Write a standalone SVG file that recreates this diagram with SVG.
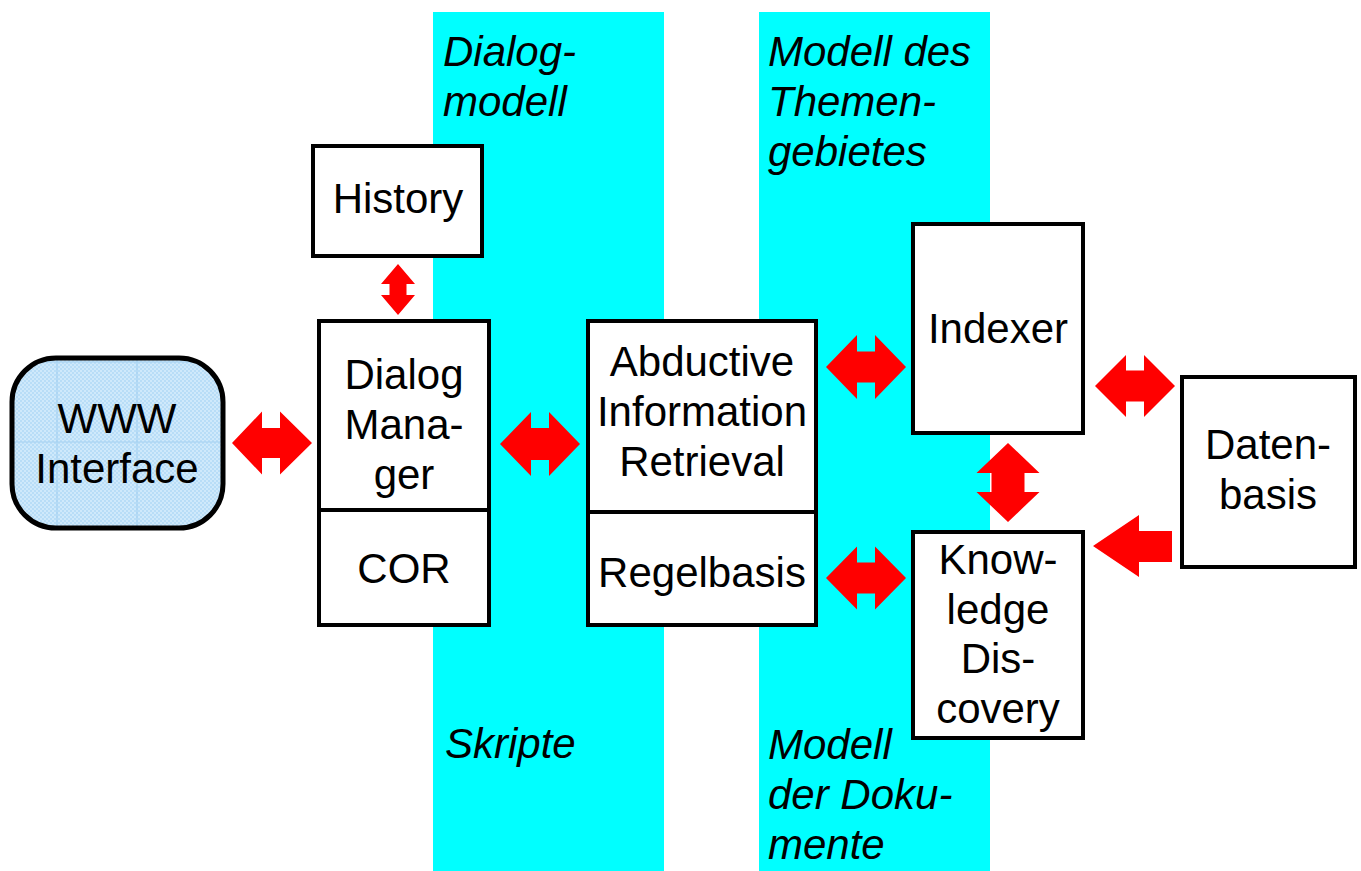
<svg xmlns="http://www.w3.org/2000/svg" width="1361" height="871" viewBox="0 0 1361 871">
<defs>
<style>
.band{fill:#00ffff}
.box{fill:#ffffff;stroke:#000;stroke-width:4}
.arr{fill:#ff0000}
.t{font-family:"Liberation Sans",Arial,sans-serif;font-size:42px;fill:#000;text-anchor:middle}
.i{font-family:"Liberation Sans",Arial,sans-serif;font-size:42px;font-style:italic;fill:#000}
</style>
<pattern id="dots" width="4" height="4" patternUnits="userSpaceOnUse">
<rect width="4" height="4" fill="#cfe9fb"/>
<rect width="2" height="2" fill="#b8ddf7"/>
<rect x="2" y="2" width="2" height="2" fill="#b8ddf7"/>
</pattern>
<clipPath id="wclip"><rect x="12" y="358" width="211" height="170" rx="44"/></clipPath>
</defs>
<rect width="1361" height="871" fill="#ffffff"/>
<g id="bands">
<rect class="band" x="433" y="12" width="231" height="859"/>
<rect class="band" x="759" y="12" width="231" height="859"/>
<text class="i" x="443" y="66">Dialog-</text>
<text class="i" x="443" y="116">modell</text>
<text class="i" x="768" y="66">Modell des</text>
<text class="i" x="768" y="116">Themen-</text>
<text class="i" x="768" y="166">gebietes</text>
<text class="i" x="445" y="758">Skripte</text>
<text class="i" x="768" y="759">Modell</text>
<text class="i" x="768" y="809">der Doku-</text>
<text class="i" x="768" y="859">mente</text>
</g>
<g id="www">
<rect x="12" y="358" width="211" height="170" rx="44" fill="url(#dots)"/>
<path d="M57 358V528M137 358V528M12 362H223M12 442H223" stroke="#a6d2f2" stroke-width="1.2" clip-path="url(#wclip)"/>
<rect x="12" y="358" width="211" height="170" rx="44" fill="none" stroke="#000" stroke-width="5"/>
<text class="t" x="117" y="433">WWW</text>
<text class="t" x="117" y="483">Interface</text>
</g>
<g id="history">
<rect class="box" x="313" y="146" width="169" height="110"/>
<text class="t" x="398" y="213">History</text>
</g>
<g id="dialogmanager">
<rect class="box" x="319" y="321" width="170" height="304"/>
<line x1="319" y1="510" x2="489" y2="510" stroke="#000" stroke-width="4"/>
<text class="t" x="404" y="389">Dialog</text>
<text class="t" x="404" y="439">Mana-</text>
<text class="t" x="404" y="489">ger</text>
<text class="t" x="404" y="583">COR</text>
</g>
<g id="air">
<rect class="box" x="588" y="321" width="228" height="304"/>
<line x1="588" y1="512" x2="816" y2="512" stroke="#000" stroke-width="4"/>
<text class="t" x="702" y="376">Abductive</text>
<text class="t" x="702" y="426">Information</text>
<text class="t" x="702" y="476">Retrieval</text>
<text class="t" x="702" y="587">Regelbasis</text>
</g>
<g id="indexer">
<rect class="box" x="913" y="224" width="170" height="209"/>
<text class="t" x="998" y="343">Indexer</text>
</g>
<g id="kd">
<rect class="box" x="913" y="532" width="170" height="206"/>
<text class="t" x="998" y="574">Know-</text>
<text class="t" x="998" y="624">ledge</text>
<text class="t" x="998" y="673">Dis-</text>
<text class="t" x="998" y="723">covery</text>
</g>
<g id="datenbasis">
<rect class="box" x="1182" y="377" width="173" height="190"/>
<text class="t" x="1268" y="459">Daten-</text>
<text class="t" x="1268" y="509">basis</text>
</g>
<g id="connectors">
<polygon class="arr" points="232,443 262,411.5 262,428 280,428 280,411.5 312,443 280,474.5 280,458 262,458 262,474.5"/>
<polygon class="arr" points="500,444 531,412 531,428 549,428 549,412 580,444 549,476 549,460 531,460 531,476"/>
<polygon class="arr" points="826,367 857,335 857,351.5 875,351.5 875,335 906,367 875,399 875,382.5 857,382.5 857,399"/>
<polygon class="arr" points="826,578 857,546.5 857,562.5 875,562.5 875,546.5 906,578 875,609.5 875,593.5 857,593.5 857,609.5"/>
<polygon class="arr" points="1095,386 1126,355 1126,370.5 1144,370.5 1144,355 1175,386 1144,417 1144,401.5 1126,401.5 1126,417"/>
<polygon class="arr" points="1093,546 1139,515 1139,531 1172,531 1172,562 1139,562 1139,577"/>
<polygon class="arr" points="398,264 415,284 406.5,284 406.5,295 415,295 398,315 381,295 389.5,295 389.5,284 381,284"/>
<polygon class="arr" points="1008,443 1039.5,473 1024.5,473 1024.5,492 1039.5,492 1008,522 976.5,492 991.5,492 991.5,473 976.5,473"/>
</g>
</svg>
